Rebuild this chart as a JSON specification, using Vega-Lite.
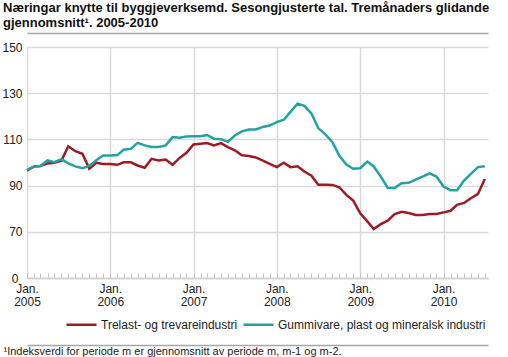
{
  "$schema": "https://vega.github.io/schema/vega-lite/v6.json",
  "width": 461,
  "height": 231,
  "autosize": {"type": "none"},
  "padding": {"left": 27, "top": 47, "right": 20, "bottom": 79},
  "background": "white",
  "config": {
    "view": {"stroke": null},
    "font": "Liberation Sans",
    "axis": {"labelFont": "Liberation Sans", "titleFont": "Liberation Sans"},
    "legend": {"labelFont": "Liberation Sans"}
  },
  "title": {
    "text": ["Næringar knytte til byggjeverksemd. Sesongjusterte tal. Tremånaders glidande", "gjennomsnitt¹. 2005-2010"],
    "anchor": "start",
    "frame": "group",
    "dx": -24,
    "offset": 3,
    "fontSize": 13,
    "fontWeight": "bold",
    "color": "#111",
    "lineHeight": 15,
    "font": "Liberation Sans"
  },
  "data": {
    "values": [
      {"date": "2005-01-01T00:00", "serie": "Trelast- og trevareindustri", "value": 96.5},
      {"date": "2005-02-01T00:00", "serie": "Trelast- og trevareindustri", "value": 98.3},
      {"date": "2005-03-01T00:00", "serie": "Trelast- og trevareindustri", "value": 98.5},
      {"date": "2005-04-01T00:00", "serie": "Trelast- og trevareindustri", "value": 99.6},
      {"date": "2005-05-01T00:00", "serie": "Trelast- og trevareindustri", "value": 99.9},
      {"date": "2005-06-01T00:00", "serie": "Trelast- og trevareindustri", "value": 100.8},
      {"date": "2005-07-01T00:00", "serie": "Trelast- og trevareindustri", "value": 107},
      {"date": "2005-08-01T00:00", "serie": "Trelast- og trevareindustri", "value": 104.9},
      {"date": "2005-09-01T00:00", "serie": "Trelast- og trevareindustri", "value": 103.8},
      {"date": "2005-10-01T00:00", "serie": "Trelast- og trevareindustri", "value": 97.3},
      {"date": "2005-11-01T00:00", "serie": "Trelast- og trevareindustri", "value": 99.9},
      {"date": "2005-12-01T00:00", "serie": "Trelast- og trevareindustri", "value": 99.4},
      {"date": "2006-01-01T00:00", "serie": "Trelast- og trevareindustri", "value": 99.3},
      {"date": "2006-02-01T00:00", "serie": "Trelast- og trevareindustri", "value": 99},
      {"date": "2006-03-01T00:00", "serie": "Trelast- og trevareindustri", "value": 100.1},
      {"date": "2006-04-01T00:00", "serie": "Trelast- og trevareindustri", "value": 100.1},
      {"date": "2006-05-01T00:00", "serie": "Trelast- og trevareindustri", "value": 98.7},
      {"date": "2006-06-01T00:00", "serie": "Trelast- og trevareindustri", "value": 97.7},
      {"date": "2006-07-01T00:00", "serie": "Trelast- og trevareindustri", "value": 101.6},
      {"date": "2006-08-01T00:00", "serie": "Trelast- og trevareindustri", "value": 100.9},
      {"date": "2006-09-01T00:00", "serie": "Trelast- og trevareindustri", "value": 101.3},
      {"date": "2006-10-01T00:00", "serie": "Trelast- og trevareindustri", "value": 99},
      {"date": "2006-11-01T00:00", "serie": "Trelast- og trevareindustri", "value": 102},
      {"date": "2006-12-01T00:00", "serie": "Trelast- og trevareindustri", "value": 104.2},
      {"date": "2007-01-01T00:00", "serie": "Trelast- og trevareindustri", "value": 107.8},
      {"date": "2007-02-01T00:00", "serie": "Trelast- og trevareindustri", "value": 108.1},
      {"date": "2007-03-01T00:00", "serie": "Trelast- og trevareindustri", "value": 108.4},
      {"date": "2007-04-01T00:00", "serie": "Trelast- og trevareindustri", "value": 107.4},
      {"date": "2007-05-01T00:00", "serie": "Trelast- og trevareindustri", "value": 108.4},
      {"date": "2007-06-01T00:00", "serie": "Trelast- og trevareindustri", "value": 106.7},
      {"date": "2007-07-01T00:00", "serie": "Trelast- og trevareindustri", "value": 105.3},
      {"date": "2007-08-01T00:00", "serie": "Trelast- og trevareindustri", "value": 103.1},
      {"date": "2007-09-01T00:00", "serie": "Trelast- og trevareindustri", "value": 102.8},
      {"date": "2007-10-01T00:00", "serie": "Trelast- og trevareindustri", "value": 102.2},
      {"date": "2007-11-01T00:00", "serie": "Trelast- og trevareindustri", "value": 100.8},
      {"date": "2007-12-01T00:00", "serie": "Trelast- og trevareindustri", "value": 99.4},
      {"date": "2008-01-01T00:00", "serie": "Trelast- og trevareindustri", "value": 98},
      {"date": "2008-02-01T00:00", "serie": "Trelast- og trevareindustri", "value": 99.9},
      {"date": "2008-03-01T00:00", "serie": "Trelast- og trevareindustri", "value": 98},
      {"date": "2008-04-01T00:00", "serie": "Trelast- og trevareindustri", "value": 98.4},
      {"date": "2008-05-01T00:00", "serie": "Trelast- og trevareindustri", "value": 96.1},
      {"date": "2008-06-01T00:00", "serie": "Trelast- og trevareindustri", "value": 94.3},
      {"date": "2008-07-01T00:00", "serie": "Trelast- og trevareindustri", "value": 90.4},
      {"date": "2008-08-01T00:00", "serie": "Trelast- og trevareindustri", "value": 90.4},
      {"date": "2008-09-01T00:00", "serie": "Trelast- og trevareindustri", "value": 90.3},
      {"date": "2008-10-01T00:00", "serie": "Trelast- og trevareindustri", "value": 89.3},
      {"date": "2008-11-01T00:00", "serie": "Trelast- og trevareindustri", "value": 86},
      {"date": "2008-12-01T00:00", "serie": "Trelast- og trevareindustri", "value": 83.5},
      {"date": "2009-01-01T00:00", "serie": "Trelast- og trevareindustri", "value": 78},
      {"date": "2009-02-01T00:00", "serie": "Trelast- og trevareindustri", "value": 74.5},
      {"date": "2009-03-01T00:00", "serie": "Trelast- og trevareindustri", "value": 71.2},
      {"date": "2009-04-01T00:00", "serie": "Trelast- og trevareindustri", "value": 73.3},
      {"date": "2009-05-01T00:00", "serie": "Trelast- og trevareindustri", "value": 74.8},
      {"date": "2009-06-01T00:00", "serie": "Trelast- og trevareindustri", "value": 77.7},
      {"date": "2009-07-01T00:00", "serie": "Trelast- og trevareindustri", "value": 78.7},
      {"date": "2009-08-01T00:00", "serie": "Trelast- og trevareindustri", "value": 78.1},
      {"date": "2009-09-01T00:00", "serie": "Trelast- og trevareindustri", "value": 77.3},
      {"date": "2009-10-01T00:00", "serie": "Trelast- og trevareindustri", "value": 77.3},
      {"date": "2009-11-01T00:00", "serie": "Trelast- og trevareindustri", "value": 77.7},
      {"date": "2009-12-01T00:00", "serie": "Trelast- og trevareindustri", "value": 77.7},
      {"date": "2010-01-01T00:00", "serie": "Trelast- og trevareindustri", "value": 78.4},
      {"date": "2010-02-01T00:00", "serie": "Trelast- og trevareindustri", "value": 79.1},
      {"date": "2010-03-01T00:00", "serie": "Trelast- og trevareindustri", "value": 81.7},
      {"date": "2010-04-01T00:00", "serie": "Trelast- og trevareindustri", "value": 82.5},
      {"date": "2010-05-01T00:00", "serie": "Trelast- og trevareindustri", "value": 84.5},
      {"date": "2010-06-01T00:00", "serie": "Trelast- og trevareindustri", "value": 86.4},
      {"date": "2010-07-01T00:00", "serie": "Trelast- og trevareindustri", "value": 92.9},
      {"date": "2005-01-01T00:00", "serie": "Gummivare, plast og mineralsk industri", "value": 96.8},
      {"date": "2005-02-01T00:00", "serie": "Gummivare, plast og mineralsk industri", "value": 98.3},
      {"date": "2005-03-01T00:00", "serie": "Gummivare, plast og mineralsk industri", "value": 98.5},
      {"date": "2005-04-01T00:00", "serie": "Gummivare, plast og mineralsk industri", "value": 100.9},
      {"date": "2005-05-01T00:00", "serie": "Gummivare, plast og mineralsk industri", "value": 100.1},
      {"date": "2005-06-01T00:00", "serie": "Gummivare, plast og mineralsk industri", "value": 101.4},
      {"date": "2005-07-01T00:00", "serie": "Gummivare, plast og mineralsk industri", "value": 99.6},
      {"date": "2005-08-01T00:00", "serie": "Gummivare, plast og mineralsk industri", "value": 98.3},
      {"date": "2005-09-01T00:00", "serie": "Gummivare, plast og mineralsk industri", "value": 97.5},
      {"date": "2005-10-01T00:00", "serie": "Gummivare, plast og mineralsk industri", "value": 98.5},
      {"date": "2005-11-01T00:00", "serie": "Gummivare, plast og mineralsk industri", "value": 101},
      {"date": "2005-12-01T00:00", "serie": "Gummivare, plast og mineralsk industri", "value": 103},
      {"date": "2006-01-01T00:00", "serie": "Gummivare, plast og mineralsk industri", "value": 103},
      {"date": "2006-02-01T00:00", "serie": "Gummivare, plast og mineralsk industri", "value": 103.2},
      {"date": "2006-03-01T00:00", "serie": "Gummivare, plast og mineralsk industri", "value": 105.5},
      {"date": "2006-04-01T00:00", "serie": "Gummivare, plast og mineralsk industri", "value": 105.9},
      {"date": "2006-05-01T00:00", "serie": "Gummivare, plast og mineralsk industri", "value": 108.5},
      {"date": "2006-06-01T00:00", "serie": "Gummivare, plast og mineralsk industri", "value": 107.4},
      {"date": "2006-07-01T00:00", "serie": "Gummivare, plast og mineralsk industri", "value": 106.7},
      {"date": "2006-08-01T00:00", "serie": "Gummivare, plast og mineralsk industri", "value": 106.7},
      {"date": "2006-09-01T00:00", "serie": "Gummivare, plast og mineralsk industri", "value": 107.4},
      {"date": "2006-10-01T00:00", "serie": "Gummivare, plast og mineralsk industri", "value": 111},
      {"date": "2006-11-01T00:00", "serie": "Gummivare, plast og mineralsk industri", "value": 110.7},
      {"date": "2006-12-01T00:00", "serie": "Gummivare, plast og mineralsk industri", "value": 111.3},
      {"date": "2007-01-01T00:00", "serie": "Gummivare, plast og mineralsk industri", "value": 111.4},
      {"date": "2007-02-01T00:00", "serie": "Gummivare, plast og mineralsk industri", "value": 111.4},
      {"date": "2007-03-01T00:00", "serie": "Gummivare, plast og mineralsk industri", "value": 111.9},
      {"date": "2007-04-01T00:00", "serie": "Gummivare, plast og mineralsk industri", "value": 110.3},
      {"date": "2007-05-01T00:00", "serie": "Gummivare, plast og mineralsk industri", "value": 110.1},
      {"date": "2007-06-01T00:00", "serie": "Gummivare, plast og mineralsk industri", "value": 109},
      {"date": "2007-07-01T00:00", "serie": "Gummivare, plast og mineralsk industri", "value": 111.7},
      {"date": "2007-08-01T00:00", "serie": "Gummivare, plast og mineralsk industri", "value": 113.5},
      {"date": "2007-09-01T00:00", "serie": "Gummivare, plast og mineralsk industri", "value": 114.3},
      {"date": "2007-10-01T00:00", "serie": "Gummivare, plast og mineralsk industri", "value": 114.3},
      {"date": "2007-11-01T00:00", "serie": "Gummivare, plast og mineralsk industri", "value": 115.4},
      {"date": "2007-12-01T00:00", "serie": "Gummivare, plast og mineralsk industri", "value": 116},
      {"date": "2008-01-01T00:00", "serie": "Gummivare, plast og mineralsk industri", "value": 117.5},
      {"date": "2008-02-01T00:00", "serie": "Gummivare, plast og mineralsk industri", "value": 118.5},
      {"date": "2008-03-01T00:00", "serie": "Gummivare, plast og mineralsk industri", "value": 121.9},
      {"date": "2008-04-01T00:00", "serie": "Gummivare, plast og mineralsk industri", "value": 125.5},
      {"date": "2008-05-01T00:00", "serie": "Gummivare, plast og mineralsk industri", "value": 124.5},
      {"date": "2008-06-01T00:00", "serie": "Gummivare, plast og mineralsk industri", "value": 121.2},
      {"date": "2008-07-01T00:00", "serie": "Gummivare, plast og mineralsk industri", "value": 114.9},
      {"date": "2008-08-01T00:00", "serie": "Gummivare, plast og mineralsk industri", "value": 112.2},
      {"date": "2008-09-01T00:00", "serie": "Gummivare, plast og mineralsk industri", "value": 108.8},
      {"date": "2008-10-01T00:00", "serie": "Gummivare, plast og mineralsk industri", "value": 103},
      {"date": "2008-11-01T00:00", "serie": "Gummivare, plast og mineralsk industri", "value": 99.1},
      {"date": "2008-12-01T00:00", "serie": "Gummivare, plast og mineralsk industri", "value": 97.3},
      {"date": "2009-01-01T00:00", "serie": "Gummivare, plast og mineralsk industri", "value": 97.5},
      {"date": "2009-02-01T00:00", "serie": "Gummivare, plast og mineralsk industri", "value": 100.4},
      {"date": "2009-03-01T00:00", "serie": "Gummivare, plast og mineralsk industri", "value": 98.3},
      {"date": "2009-04-01T00:00", "serie": "Gummivare, plast og mineralsk industri", "value": 93.9},
      {"date": "2009-05-01T00:00", "serie": "Gummivare, plast og mineralsk industri", "value": 89.1},
      {"date": "2009-06-01T00:00", "serie": "Gummivare, plast og mineralsk industri", "value": 89},
      {"date": "2009-07-01T00:00", "serie": "Gummivare, plast og mineralsk industri", "value": 91},
      {"date": "2009-08-01T00:00", "serie": "Gummivare, plast og mineralsk industri", "value": 91.2},
      {"date": "2009-09-01T00:00", "serie": "Gummivare, plast og mineralsk industri", "value": 92.6},
      {"date": "2009-10-01T00:00", "serie": "Gummivare, plast og mineralsk industri", "value": 93.9},
      {"date": "2009-11-01T00:00", "serie": "Gummivare, plast og mineralsk industri", "value": 95.3},
      {"date": "2009-12-01T00:00", "serie": "Gummivare, plast og mineralsk industri", "value": 93.9},
      {"date": "2010-01-01T00:00", "serie": "Gummivare, plast og mineralsk industri", "value": 89.6},
      {"date": "2010-02-01T00:00", "serie": "Gummivare, plast og mineralsk industri", "value": 88},
      {"date": "2010-03-01T00:00", "serie": "Gummivare, plast og mineralsk industri", "value": 88},
      {"date": "2010-04-01T00:00", "serie": "Gummivare, plast og mineralsk industri", "value": 92.2},
      {"date": "2010-05-01T00:00", "serie": "Gummivare, plast og mineralsk industri", "value": 95.1},
      {"date": "2010-06-01T00:00", "serie": "Gummivare, plast og mineralsk industri", "value": 98},
      {"date": "2010-07-01T00:00", "serie": "Gummivare, plast og mineralsk industri", "value": 98.4}
    ],
    "format": {"parse": {"date": "date"}}
  },
  "layer": [
    {
      "mark": {"type": "line", "strokeWidth": 2.5, "clip": false},
      "encoding": {
        "x": {
          "field": "date",
          "type": "temporal",
          "scale": {"domain": [{"year": 2005, "month": 1, "date": 1}, {"year": 2010, "month": 7, "date": 15}]},
          "axis": {
            "orient": "bottom",
            "tickCount": {"interval": "month", "step": 1},
            "labelExpr": "month(datum.value) == 0 ? ['Jan.', timeFormat(datum.value, '%Y')] : ''",
            "labelOverlap": false,
            "labelFlush": false,
            "labelAlign": "center",
            "labelBaseline": "top",
            "labelFontSize": 12,
            "labelLineHeight": 13,
            "labelColor": "#222",
            "labelPadding": 10,
            "tickSize": -5,
            "tickColor": "#c4c4c4",
            "tickWidth": 1,
            "domainColor": "#cfcfcf",
            "domainWidth": 1.5,
            "grid": true,
            "gridColor": "#d9d9d9",
            "gridWidth": 1.5,
            "gridOpacity": {"condition": {"test": "month(datum.value) == 0", "value": 1}, "value": 0},
            "title": null
          }
        },
        "y": {
          "field": "value",
          "type": "quantitative",
          "scale": {"domain": [50, 150], "nice": false, "zero": false},
          "axis": {
            "values": [50, 70, 90, 110, 130, 150],
            "labelExpr": "datum.value == 50 ? '0' : datum.label",
            "domain": false,
            "ticks": false,
            "labelPadding": {"condition": {"test": "datum.value == 50", "value": 9}, "value": 5},
            "labelFontSize": 12,
            "labelColor": "#222",
            "gridColor": "#d9d9d9",
            "gridWidth": 1.3,
            "title": null
          }
        },
        "color": {
          "field": "serie",
          "type": "nominal",
          "sort": ["Trelast- og trevareindustri", "Gummivare, plast og mineralsk industri"],
          "scale": {"domain": ["Trelast- og trevareindustri", "Gummivare, plast og mineralsk industri"], "range": ["#9e1b24", "#22a39f"]},
          "legend": {
            "orient": "none",
            "legendX": 38,
            "legendY": 261,
            "direction": "horizontal",
            "title": null,
            "symbolType": "stroke",
            "symbolSize": 900,
            "symbolStrokeWidth": 2.5,
            "labelFontSize": 12,
            "labelColor": "#222",
            "labelLimit": 0,
            "labelOffset": 3,
            "columnPadding": 0
          }
        }
      }
    },
    {
      "mark": {"type": "rule", "opacity": 0},
      "encoding": {
        "x": {
          "field": "date",
          "type": "temporal",
          "axis": {"orient": "top", "offset": 14, "labels": false, "ticks": false, "grid": false, "domainColor": "#a6a6a6", "domainWidth": 1.5, "title": null}
        }
      }
    },
    {
      "mark": {"type": "rule", "opacity": 0},
      "encoding": {
        "x": {
          "field": "date",
          "type": "temporal",
          "axis": {
            "orient": "bottom",
            "offset": 67,
            "labels": false,
            "ticks": false,
            "grid": false,
            "domainColor": "#a6a6a6",
            "domainWidth": 1.5,
            "title": "¹Indeksverdi for periode m er gjennomsnitt av periode m, m-1 og m-2.",
            "titleAnchor": "start",
            "titleAlign": "left",
            "titleX": -24,
            "titleY": 0,
            "titleBaseline": "top",
            "titleFontSize": 11,
            "titleFontWeight": "normal",
            "titleColor": "#222",
            "titleFont": "Liberation Sans"
          }
        }
      }
    }
  ],
  "resolve": {"axis": {"x": "independent"}}
}
